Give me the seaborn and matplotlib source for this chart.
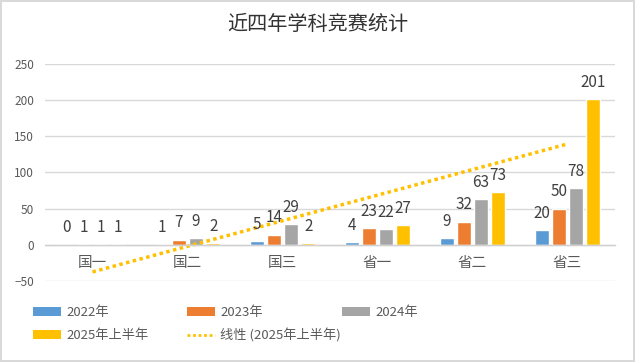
import numpy as np
import pandas as pd
import matplotlib
matplotlib.use("Agg")
import matplotlib.pyplot as plt
from matplotlib.patches import Patch
from matplotlib.lines import Line2D
import seaborn as sns

categories = ["国一", "国二", "国三", "省一", "省二", "省三"]
series_names = ["2022年", "2023年", "2024年", "2025年上半年"]
v2022 = [0, 1, 5, 4, 9, 20]
v2023 = [1, 7, 14, 23, 32, 50]
v2024 = [1, 9, 29, 22, 63, 78]
v2025 = [1, 2, 2, 27, 73, 201]
colors = ["#5B9BD5", "#ED7D31", "#A5A5A5", "#FFC000"]
title = "近四年学科竞赛统计"
trend_label = "线性 (2025年上半年)"
yticks = [-50, 0, 50, 100, 150, 200, 250]

sns.set_style("white")
plt.rcParams["font.family"] = ["Noto Sans CJK SC", "DejaVu Sans"]

rows = []
for name, vals in zip(series_names, [v2022, v2023, v2024, v2025]):
    for c, v in zip(categories, vals):
        rows.append({"cat": c, "series": name, "value": v})
df = pd.DataFrame(rows)

fig = plt.figure(figsize=(6.35, 3.62), dpi=100, edgecolor="#d9d9d9", linewidth=1.5)
ax = fig.add_axes([45 / 635, 1 - 281 / 362, 570 / 635, (281 - 64) / 362])

sns.barplot(data=df, x="cat", y="value", hue="series", order=categories,
            hue_order=series_names, palette=colors, width=0.72, gap=0.17,
            legend=False, ax=ax, saturation=1)

for cont in ax.containers:
    ax.bar_label(cont, padding=6, fontsize=11, color="#404040")

# linear trendline of 2025 series
xs = np.arange(len(categories))
k, b = np.polyfit(xs, v2025, 1)
ax.plot(xs, k * xs + b, linestyle=(0, (1, 1)), color="#FFC000", linewidth=2.5, zorder=1)

ax.set_ylim(-50, 250)
ax.set_xlim(-0.5, len(categories) - 0.5)
ax.set_yticks(yticks)
ax.yaxis.grid(True, color="#d9d9d9", linewidth=1)
ax.set_axisbelow(True)
for s in ["top", "right", "left"]:
    ax.spines[s].set_visible(False)
ax.spines["bottom"].set_position(("data", 0))
ax.spines["bottom"].set_color("#d0d0d0")
ax.spines["bottom"].set_linewidth(1)
ax.tick_params(axis="both", length=0)
ax.tick_params(axis="y", labelsize=8.5, labelcolor="#595959", pad=8)
ax.tick_params(axis="x", labelsize=10.5, labelcolor="#595959", pad=8)
ax.set_xlabel("")
ax.set_ylabel("")

fig.suptitle(title, y=1 - 25 / 362, va="center", fontsize=14.5, color="#333333",
             fontweight="medium")

# legend built as three columns
handles = [Patch(facecolor=c, edgecolor="none") for c in colors]
trend_handle = Line2D([0], [0], color="#FFC000", linestyle=(0, (1, 1)), linewidth=2)
cols = [
    ([handles[0], handles[3]], [series_names[0], series_names[3]], 33),
    ([handles[1], trend_handle], [series_names[1], trend_label], 187),
    ([handles[2]], [series_names[2]], 342),
]
for hs, ls, xpx in cols:
    fig.legend(hs, ls, loc="upper left", bbox_to_anchor=(xpx / 635, 1 - 306 / 362),
               frameon=False, fontsize=9.5, labelcolor="#595959", handlelength=2.1,
               handleheight=0.7, handletextpad=0.4, labelspacing=0.75,
               borderaxespad=0, borderpad=0)

fig.savefig("out.png", dpi=100, edgecolor=fig.get_edgecolor())
